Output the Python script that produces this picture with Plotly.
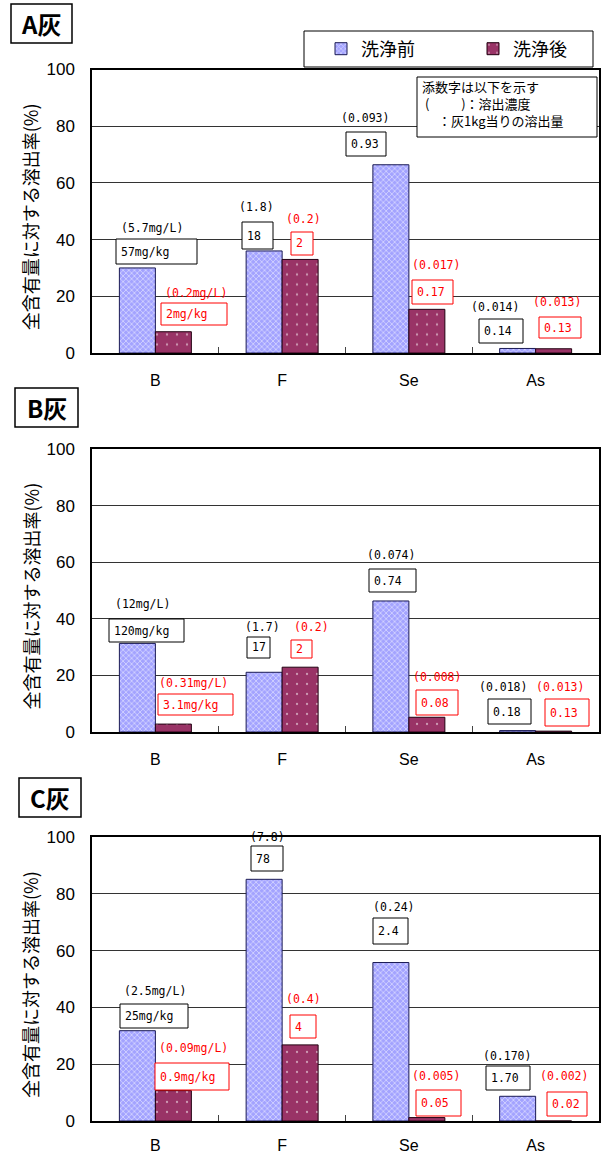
import plotly.graph_objects as go

W, H = 602, 1155

# ---- data -------------------------------------------------------------
elements = ["B", "F", "Se", "As"]
series_names = ["洗浄前", "洗浄後"]
ash_titles = ["A灰", "B灰", "C灰"]

# leaching ratio relative to total content (%)
ash_a_before = [30.0, 36.0, 66.4, 1.6]
ash_a_after = [7.5, 33.0, 15.4, 1.5]
ash_b_before = [31.3, 21.1, 46.3, 0.5]
ash_b_after = [2.8, 22.9, 5.2, 0.3]
ash_c_before = [31.8, 85.1, 55.8, 8.7]
ash_c_after = [10.7, 26.8, 1.2, 0.0]

# leachate concentration (mg/L)
ash_a_conc_before = ["(5.7mg/L)", "(1.8)", "(0.093)", "(0.014)"]
ash_a_conc_after = ["(0.2mg/L)", "(0.2)", "(0.017)", "(0.013)"]
ash_b_conc_before = ["(12mg/L)", "(1.7)", "(0.074)", "(0.018)"]
ash_b_conc_after = ["(0.31mg/L)", "(0.2)", "(0.008)", "(0.013)"]
ash_c_conc_before = ["(2.5mg/L)", "(7.8)", "(0.24)", "(0.170)"]
ash_c_conc_after = ["(0.09mg/L)", "(0.4)", "(0.005)", "(0.002)"]

# leached amount per kg of ash (mg/kg)
ash_a_amt_before = ["57mg/kg", "18", "0.93", "0.14"]
ash_a_amt_after = ["2mg/kg", "2", "0.17", "0.13"]
ash_b_amt_before = ["120mg/kg", "17", "0.74", "0.18"]
ash_b_amt_after = ["3.1mg/kg", "2", "0.08", "0.13"]
ash_c_amt_before = ["25mg/kg", "78", "2.4", "1.70"]
ash_c_amt_after = ["0.9mg/kg", "4", "0.05", "0.02"]

note_lines = [
    "添数字は以下を示す",
    "\u00a0(　　\u00a0\u00a0)：溶出濃度",
    "　\u00a0：灰1kg当りの溶出量",
]
y_title = "全含有量に対する溶出率(%)"

# ---- layout geometry (pixels) ----------------------------------------
PLOT_LEFT, PLOT_RIGHT = 92, 599
FRAMES = [(69.5, 353), (449, 732), (837, 1121)]          # top, bottom
TITLE_BOXES = [(11, 4, 72, 43), (15, 388, 78, 427), (19, 778, 81, 817)]
XLABEL_STANDOFF = [12, 12, 9]

# label placement per panel: concentration label centres (before, after)
CONC_POS = [
    [[(152, 228), (256, 207), (365, 118), (495, 307)],
     [(196, 293), (303, 219), (436, 265), (557, 302)]],
    [[(142, 604), (262, 627), (391, 555), (503, 687)],
     [(193, 683), (311, 627), (437, 677), (560, 687)]],
    [[(155, 991), (267, 837), (394, 907), (507, 1056)],
     [(193, 1048), (303, 999), (436, 1076), (564, 1076)]],
]
# boxed amount labels: left, top, right, bottom
BOX_POS = [
    [[(116, 239, 197, 264), (242, 222, 273, 249), (346, 132, 386, 156), (479, 319, 523, 343)],
     [(161, 303, 227, 325), (291, 232, 313, 255), (412, 280, 453, 304), (539, 317, 581, 338)]],
    [[(109, 619, 184, 642), (247, 637, 270, 658), (369, 569, 416, 592), (488, 699, 531, 724)],
     [(158, 694, 233, 715), (291, 640, 312, 658), (416, 690, 458, 715), (545, 699, 589, 726)]],
    [[(120, 1004, 188, 1028), (251, 846, 283, 871), (373, 918, 408, 944), (486, 1066, 530, 1090)],
     [(155, 1063, 229, 1090), (290, 1015, 316, 1038), (416, 1090, 461, 1116), (547, 1092, 587, 1116)]],
]


def fx(px):
    return px / W


def fy(py):
    return 1 - py / H


CJK = "Noto Sans CJK JP"
MONO = "DejaVu Sans Mono"
SANS = "Liberation Sans"
BEFORE_COLOR = "#a3a3ff"
AFTER_COLOR = "#993366"

values = [
    (ash_a_before, ash_a_after),
    (ash_b_before, ash_b_after),
    (ash_c_before, ash_c_after),
]
conc_text = [
    (ash_a_conc_before, ash_a_conc_after),
    (ash_b_conc_before, ash_b_conc_after),
    (ash_c_conc_before, ash_c_conc_after),
]
amt_text = [
    (ash_a_amt_before, ash_a_amt_after),
    (ash_b_amt_before, ash_b_amt_after),
    (ash_c_amt_before, ash_c_amt_after),
]

fig = go.Figure()
annotations = []
shapes = []

for p in range(3):
    suffix = "" if p == 0 else str(p + 1)
    before, after = values[p]
    fig.add_trace(go.Bar(
        x=elements, y=before, name=series_names[0],
        xaxis="x" + suffix, yaxis="y" + suffix,
        legendgroup="before", showlegend=(p == 0),
        marker=dict(color=BEFORE_COLOR,
                    line=dict(color="#1a1a55", width=1),
                    pattern=dict(shape="x", fgcolor="white", size=4, solidity=0.4)),
        hoverinfo="skip",
    ))
    fig.add_trace(go.Bar(
        x=elements, y=after, name=series_names[1],
        xaxis="x" + suffix, yaxis="y" + suffix,
        legendgroup="after", showlegend=(p == 0),
        marker=dict(color=AFTER_COLOR,
                    line=dict(color="#220011", width=1),
                    pattern=dict(shape=".", fgcolor="white", size=10, solidity=0.04)),
        hoverinfo="skip",
    ))

    top, bottom = FRAMES[p]
    fig.layout["xaxis" + suffix] = dict(
        domain=[fx(PLOT_LEFT), fx(PLOT_RIGHT)], anchor="y" + suffix,
        showline=True, linecolor="black", linewidth=1.5, mirror=True,
        ticks="inside", tickson="boundaries", ticklen=6, tickcolor="#444",
        tickfont=dict(family=SANS, size=16, color="black"),
        ticklabelstandoff=XLABEL_STANDOFF[p], showgrid=False, fixedrange=True,
    )
    fig.layout["yaxis" + suffix] = dict(
        domain=[fy(bottom), fy(top)], anchor="x" + suffix,
        range=[0, 100], dtick=20, showgrid=True, gridcolor="#333", gridwidth=1,
        zeroline=False, showline=True, linecolor="black", linewidth=1.5, mirror=True,
        ticks="", tickfont=dict(family=SANS, size=17, color="black"),
        ticklabelstandoff=12, fixedrange=True,
    )

    # panel title box
    l, t, r, b = TITLE_BOXES[p]
    shapes.append(dict(type="rect", xref="paper", yref="paper",
                       x0=fx(l), x1=fx(r), y0=fy(b), y1=fy(t),
                       line=dict(color="black", width=1.5), fillcolor="white"))
    annotations.append(dict(xref="paper", yref="paper", x=fx((l + r) / 2), y=fy((t + b) / 2),
                            text="<b>" + ash_titles[p] + "</b>", showarrow=False,
                            font=dict(family=CJK, size=24, color="black"),
                            xanchor="center", yanchor="middle"))

    # y axis title
    annotations.append(dict(xref="paper", yref="paper", x=fx(30), y=fy((top + bottom) / 2 + 6),
                            text=y_title, textangle=-90, showarrow=False,
                            font=dict(family=CJK, size=18, color="black"),
                            xanchor="center", yanchor="middle"))

    # value labels
    for s, color in enumerate(["black", "red"]):
        for k in range(len(elements)):
            cx, cy = CONC_POS[p][s][k]
            annotations.append(dict(xref="paper", yref="paper", x=fx(cx), y=fy(cy),
                                    text=conc_text[p][s][k], showarrow=False,
                                    font=dict(family=MONO, size=11.5, color=color),
                                    xanchor="center", yanchor="middle"))
            bl, bt, br, bb = BOX_POS[p][s][k]
            shapes.append(dict(type="rect", xref="paper", yref="paper",
                               x0=fx(bl), x1=fx(br), y0=fy(bb), y1=fy(bt),
                               line=dict(color=color, width=1), fillcolor="white",
                               layer="above"))
            annotations.append(dict(xref="paper", yref="paper", x=fx(bl + 3), y=fy((bt + bb) / 2),
                                    text=amt_text[p][s][k], showarrow=False,
                                    font=dict(family=MONO, size=11.5, color=color),
                                    xanchor="left", yanchor="middle"))

# legend frame
shapes.append(dict(type="rect", xref="paper", yref="paper",
                   x0=fx(304), x1=fx(593), y0=fy(67), y1=fy(31),
                   line=dict(color="black", width=1), fillcolor="white", layer="below"))

# explanatory note box
shapes.append(dict(type="rect", xref="paper", yref="paper",
                   x0=fx(417), x1=fx(597), y0=fy(137), y1=fy(77),
                   line=dict(color="black", width=1), fillcolor="white", layer="above"))
annotations.append(dict(xref="paper", yref="paper", x=fx(420), y=fy(104),
                        text="<br>".join(note_lines), showarrow=False, align="left",
                        font=dict(family=CJK, size=13, color="black"),
                        xanchor="left", yanchor="middle"))

fig.update_layout(
    width=W, height=H,
    margin=dict(l=0, r=0, t=0, b=0, autoexpand=False),
    paper_bgcolor="white", plot_bgcolor="white",
    barmode="group", bargap=0.432, bargroupgap=0,
    showlegend=True,
    legend=dict(orientation="h", x=fx(321), y=fy(49), xanchor="left", yanchor="middle",
                font=dict(family=CJK, size=18, color="black"),
                bgcolor="rgba(0,0,0,0)", entrywidth=107, entrywidthmode="pixels",
                itemclick=False, itemdoubleclick=False),
    shapes=shapes,
    annotations=annotations,
)

fig.write_html("out.html")
